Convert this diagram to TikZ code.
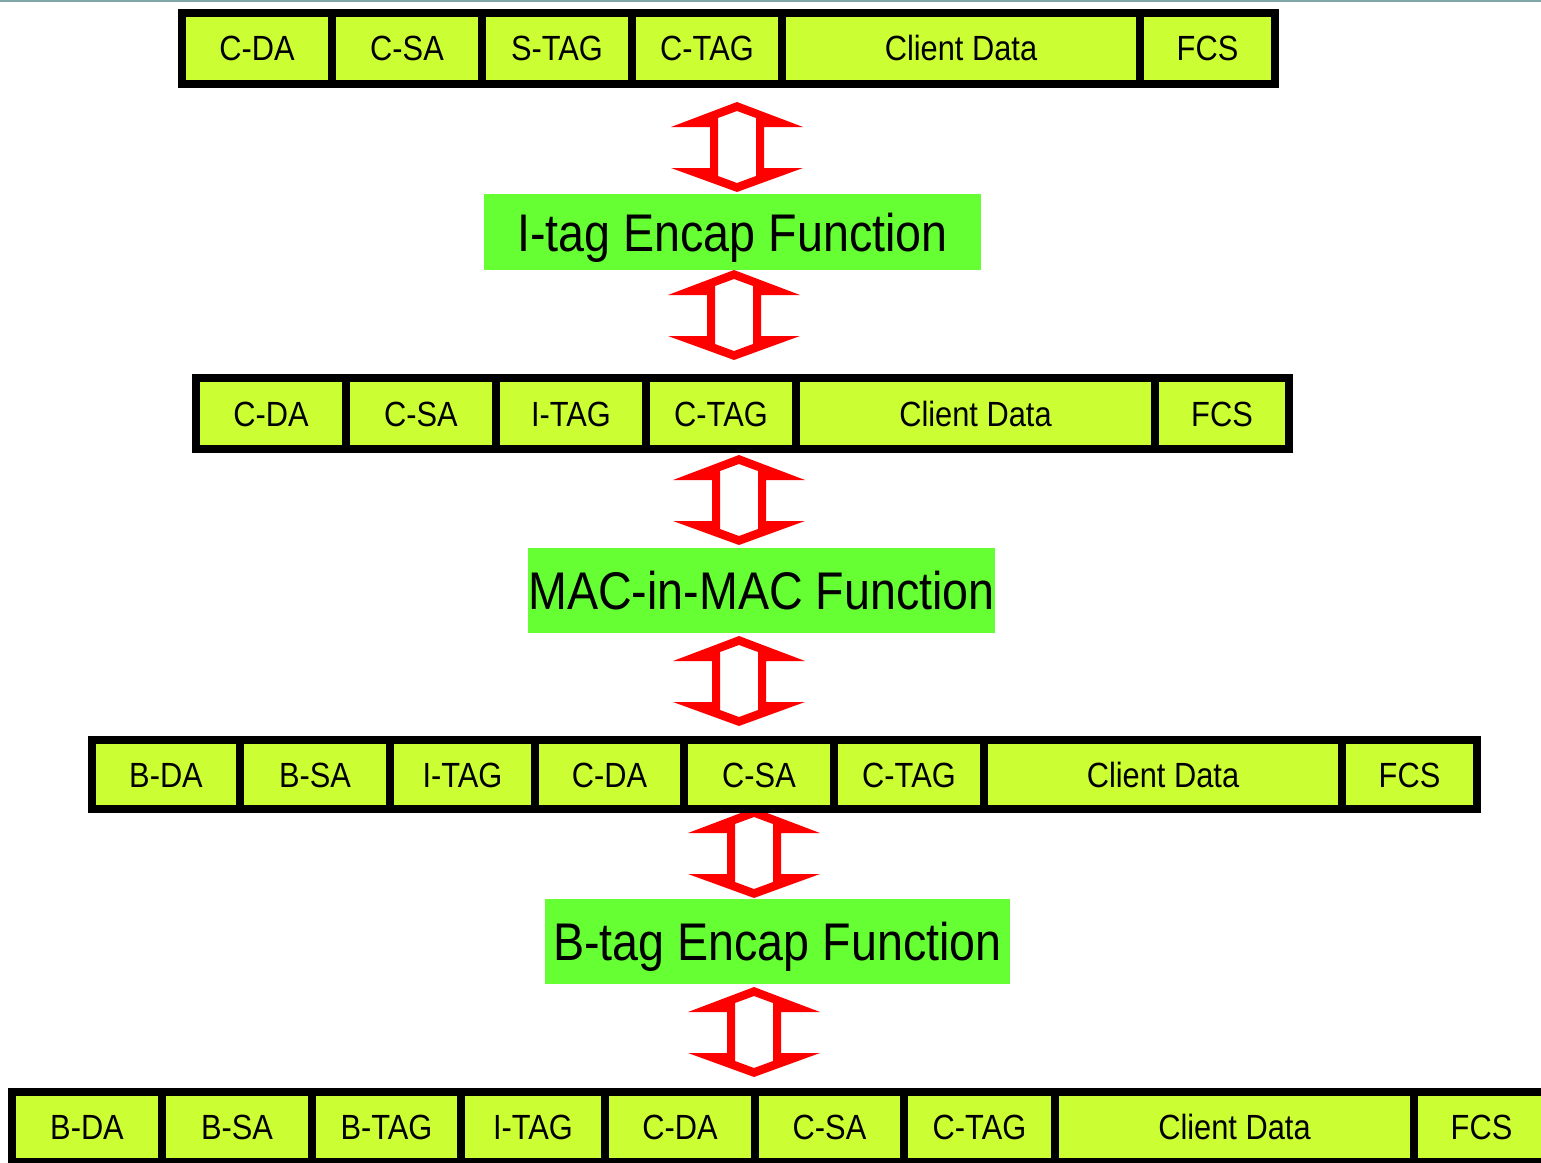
\documentclass[tikz,border=0pt]{standalone}
\usepackage{fontspec}
\setmainfont[FakeStretch=0.88]{Liberation Sans}
\definecolor{cellgreen}{HTML}{CCFF33}
\definecolor{labelgreen}{HTML}{66FF33}
\definecolor{arrowred}{HTML}{FF0000}
\definecolor{topgrey}{HTML}{80A8A8}
\begin{document}
\begin{tikzpicture}[x=1pt,y=-1pt,
  cell/.style={draw=black, line width=8pt, fill=cellgreen, inner sep=0pt,
    font=\fontsize{35}{42}\selectfont, text height=25pt, text depth=0pt},
  funcbox/.style={fill=labelgreen, draw=none, inner sep=0pt,
    font=\fontsize{53}{60}\selectfont, text height=38pt, text depth=0pt},
  dblarr/.pic={
    \fill[arrowred, even odd rule]
      (0,0) -- (66,25) -- (27,25) -- (27,66) -- (66,66) -- (0,90)
      -- (-66,66) -- (-27,66) -- (-27,25) -- (-66,25) -- cycle
      (0,9) -- (19,16) -- (19,74) -- (0,81) -- (-19,74) -- (-19,16) -- cycle;
  }]
\fill[white] (0,0) rectangle (1541,1162);
\useasboundingbox (0,0) rectangle (1541,1162);
\clip (0,0) rectangle (1541,1162);
\draw[topgrey, line width=1.5pt] (0,0.75) -- (1541,0.75);

% arrows
\pic at (737,102) {dblarr};
\pic at (734,270) {dblarr};
\pic at (739,455) {dblarr};
\pic at (739,636) {dblarr};
\pic at (754,808) {dblarr};
\pic at (754,987) {dblarr};

% row 1
\foreach \a/\b/\t/\n in {182/332/C-DA/ra1, 332/482/C-SA/ra2, 482/632/S-TAG/ra3,
  632/782/C-TAG/ra4, 782/1140/Client Data/ra5, 1140/1275/FCS/ra6}
  \node[cell, minimum width={\b-\a}, minimum height=71.5] (\n) at ({(\a+\b)/2},48.25) {\t};

% row 2
\foreach \a/\b/\t/\n in {196/346/C-DA/rb1, 346/496/C-SA/rb2, 496/646/I-TAG/rb3,
  646/796/C-TAG/rb4, 796/1155/Client Data/rb5, 1155/1289/FCS/rb6}
  \node[cell, minimum width={\b-\a}, minimum height=71] (\n) at ({(\a+\b)/2},413.5) {\t};

% row 3
\foreach \a/\b/\t/\n in {92/240/B-DA/rc1, 240/390/B-SA/rc2, 390/535/I-TAG/rc3,
  535/684/C-DA/rc4, 684/834/C-SA/rc5, 834/984/C-TAG/rc6, 984/1342/Client Data/rc7,
  1342/1477/FCS/rc8}
  \node[cell, minimum width={\b-\a}, minimum height=69] (\n) at ({(\a+\b)/2},774.5) {\t};

% row 4
\foreach \a/\b/\t/\n in {12/162/B-DA/rd1, 162/312/B-SA/rd2, 312/461/B-TAG/rd3,
  461/605/I-TAG/rd4, 605/755/C-DA/rd5, 755/904/C-SA/rd6, 904/1055/C-TAG/rd7,
  1055/1414/Client Data/rd8, 1414/1549/FCS/rd9}
  \node[cell, minimum width={\b-\a}, minimum height=70.5] (\n) at ({(\a+\b)/2},1127) {\t};

% function boxes
\node[funcbox, minimum width=497, minimum height=76] (itag) at (732.5,232) {I-tag Encap Function};
\node[funcbox, minimum width=465, minimum height=85] (macinmac) at (761.5,590) {MAC-in-MAC Function};
\node[funcbox, minimum width=465, minimum height=85] (btag) at (777.5,941) {B-tag Encap Function};
\end{tikzpicture}
\end{document}
